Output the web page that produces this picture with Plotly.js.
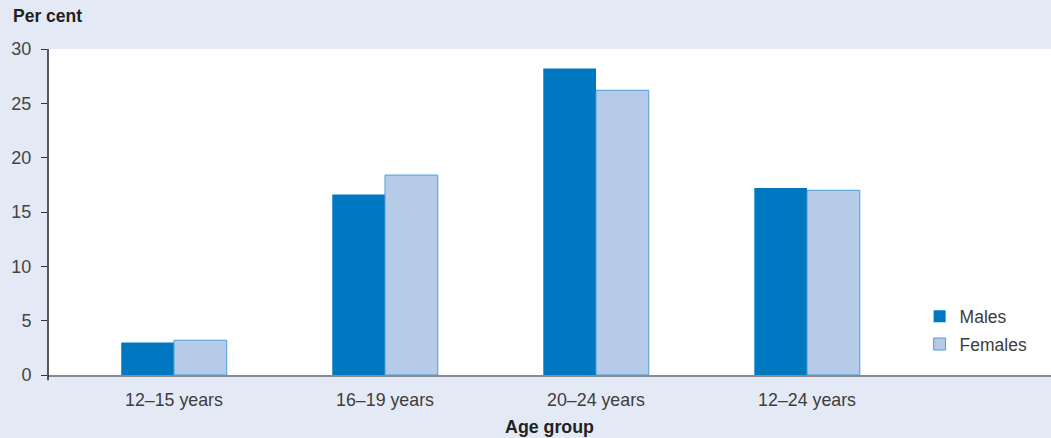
<!DOCTYPE html>
<html>
<head>
<meta charset="utf-8">
<script src="https://cdn.plot.ly/plotly-3.0.1.min.js"></script>
<style>
html,body{margin:0;padding:0;background:#e3eaf6;}
#chart{width:1051px;height:438px;}
</style>
</head>
<body>
<div id="chart"></div>
<script>
var categories = ["12–15 years", "16–19 years", "20–24 years", "12–24 years"];
var males = [3.0, 16.6, 28.2, 17.2];
var females = [3.2, 18.4, 26.2, 17.0];
var yTicks = [0, 5, 10, 15, 20, 25, 30];

var fontFam = "Liberation Sans, Arial, Helvetica, sans-serif";

var data = [
  {type: "bar", name: "Males", x: categories, y: males, legendgroup: "m",
   marker: {color: "#0078c1", line: {color: "#0078c1", width: 0}}},
  {type: "bar", name: "Females", x: categories, y: females, legendgroup: "f",
   marker: {color: "#b6cbe7", line: {color: "#4a9fdb", width: 1}}}
];

var layout = {
  width: 1051, height: 438,
  paper_bgcolor: "#e3eaf6", plot_bgcolor: "#ffffff",
  margin: {l: 48, r: 0, t: 49, b: 63},
  barmode: "group", bargap: 0.5, bargroupgap: 0,
  font: {family: fontFam, size: 18, color: "#3d3d3d"},
  xaxis: {
    type: "category", range: [-0.597, 4.156],
    showline: true, linecolor: "#8a8a8a", linewidth: 2,
    ticks: "", showgrid: false, zeroline: false, automargin: false,
    ticklabelstandoff: 8,
    tickfont: {size: 17.8, color: "#3d3d3d"},
    title: {text: "<b>Age group</b>", font: {size: 17.8, color: "#222"}, standoff: 11}
  },
  yaxis: {
    range: [0, 30], tickvals: yTicks, ticktext: yTicks.map(String),
    showline: false, showgrid: false, zeroline: false, automargin: false,
    ticks: "outside", ticklen: 6, tickcolor: "#333", tickwidth: 1,
    ticklabelstandoff: 6,
    tickfont: {size: 18, color: "#444"}
  },
  shapes: [
    {type: "line", xref: "paper", yref: "paper", x0: 0, x1: 0, y0: -0.016, y1: 1,
     line: {color: "#222", width: 1.5}}
  ],
  annotations: [
    {text: "<b>Per cent</b>", xref: "paper", yref: "paper", x: -0.0369, y: 1.101,
     xanchor: "left", yanchor: "middle", showarrow: false,
     font: {size: 17.5, color: "#222"}}
  ],
  legend: {
    x: 0.869, y: 0.235, xanchor: "left", yanchor: "top",
    bgcolor: "rgba(0,0,0,0)", font: {size: 17.5, color: "#3d3d3d"},
    traceorder: "grouped", tracegroupgap: 2
  },
  showlegend: true
};

Plotly.newPlot("chart", data, layout, {displayModeBar: false, staticPlot: true});
</script>
</body>
</html>
